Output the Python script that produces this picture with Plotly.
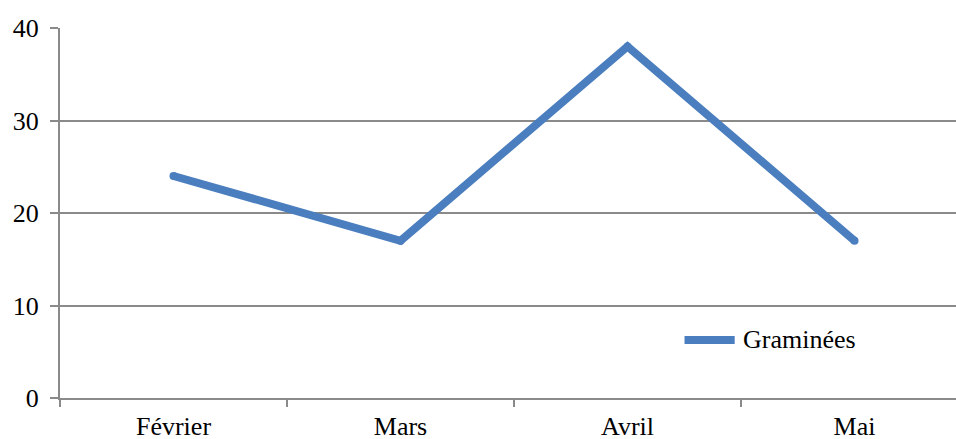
import plotly.graph_objects as go

# Monthly values for the grass pollen series
months = ["Février", "Mars", "Avril", "Mai"]
graminees = [24, 17, 38, 17]
y_ticks = [0, 10, 20, 30, 40]

series_name = "Graminées"
line_color = "#4A7EBF"
axis_color = "#8A8A8A"
font_family = "Liberation Serif"

fig = go.Figure()
fig.add_trace(go.Scatter(
    x=months,
    y=graminees,
    mode="lines+markers",
    name=series_name,
    line=dict(color=line_color, width=8),
    # round off the line ends and joins
    marker=dict(color=line_color, size=8, line=dict(width=0)),
    showlegend=False,
))

# Legend key drawn beside the series name
fig.add_shape(
    type="line", xref="paper", yref="paper",
    x0=0.697, x1=0.753, y0=0.157, y1=0.157,
    line=dict(color=line_color, width=8),
)
fig.add_annotation(
    text=series_name, xref="paper", yref="paper",
    x=0.760, y=0.157, xanchor="left", yanchor="middle",
    showarrow=False, font=dict(family=font_family, size=26, color="black"),
)

fig.update_layout(
    width=956, height=439,
    margin=dict(l=60, r=0, t=28, b=41),
    paper_bgcolor="white",
    plot_bgcolor="white",
    font=dict(family=font_family, size=26, color="black"),
    xaxis=dict(
        type="category",
        range=[-0.5, 3.447],
        automargin=False,
        showgrid=False,
        showline=True, linecolor=axis_color, linewidth=2,
        ticks="outside", tickson="boundaries", ticklen=7,
        tickcolor=axis_color, tickwidth=1.5,
        tickfont=dict(family=font_family, size=26),
        ticklabelstandoff=4,
        zeroline=False,
    ),
    yaxis=dict(
        range=[0, 40],
        automargin=False,
        tickvals=y_ticks,
        showgrid=True, gridcolor=axis_color, gridwidth=2,
        showline=True, linecolor=axis_color, linewidth=2,
        ticks="outside", ticklen=8, tickcolor=axis_color, tickwidth=2,
        tickfont=dict(family=font_family, size=26),
        ticklabelstandoff=6,
        zeroline=False,
    ),
)

fig.write_html("out.html")
